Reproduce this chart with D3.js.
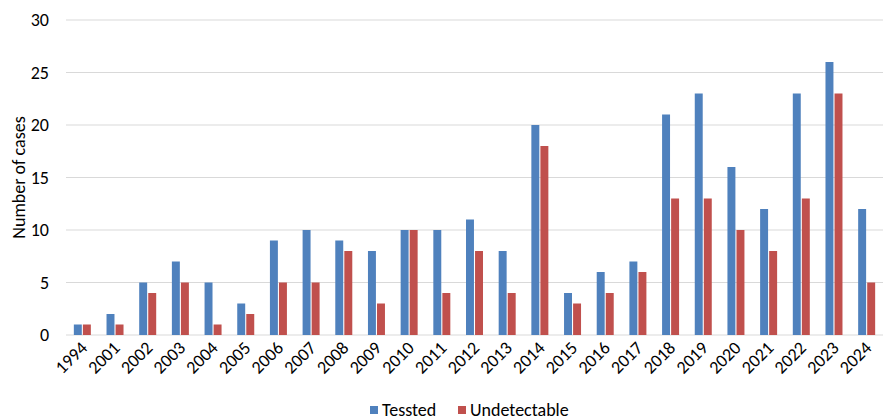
<!DOCTYPE html>
<html>
<head>
<meta charset="utf-8">
<script src="https://cdn.jsdelivr.net/npm/d3@7"></script>
<style>
  html, body { margin: 0; padding: 0; background: #fff; }
  svg text { font-family: Carlito, "Liberation Sans", "DejaVu Sans", sans-serif; fill: #000; }
</style>
</head>
<body>
<svg id="chart" width="883" height="420"></svg>
<script>
// Case counts per year
const years = ["1994","2001","2002","2003","2004","2005","2006","2007","2008","2009","2010","2011","2012",
  "2013","2014","2015","2016","2017","2018","2019","2020","2021","2022","2023","2024"];
const tested =       [1, 2, 5, 7, 5, 3, 9, 10, 9, 8, 10, 10, 11, 8, 20, 4, 6, 7, 21, 23, 16, 12, 23, 26, 12];
const undetectable = [1, 1, 4, 5, 1, 2, 5, 5, 8, 3, 10, 4, 8, 4, 18, 3, 4, 6, 13, 13, 10, 8, 13, 23, 5];
const seriesNames = ["Tessted", "Undetectable"];
const seriesColors = ["#4F81BD", "#C0504D"];
const yTicks = [0, 5, 10, 15, 20, 25, 30];

const svg = d3.select("#chart");
const margin = { left: 66, right: 0, top: 20, bottom: 85 };
const W = 883, H = 420;
const fs = 18;

const x = d3.scaleBand().domain(years).range([margin.left, W - margin.right]).paddingInner(0).paddingOuter(0);
const y = d3.scaleLinear().domain([0, 30]).range([H - margin.bottom, margin.top]);

// horizontal gridlines
svg.append("g").selectAll("line").data(yTicks).join("line")
  .attr("x1", margin.left).attr("x2", W - margin.right)
  .attr("y1", d => y(d)).attr("y2", d => y(d))
  .attr("stroke", "#d9d9d9").attr("stroke-width", 1.2);

// y tick labels
svg.append("g").selectAll("text").data(yTicks).join("text")
  .attr("x", 49).attr("y", d => y(d)).attr("dy", "0.35em")
  .attr("text-anchor", "end").attr("font-size", fs).text(d => d);

// y axis title
svg.append("text")
  .attr("transform", `translate(25,${(y(0) + y(30)) / 2}) rotate(-90)`)
  .attr("text-anchor", "middle").attr("font-size", fs).text("Number of cases");

// bars
const rows = years.map((yr, i) => ({ yr, vals: [tested[i], undetectable[i]] }));
const inner = d3.scaleBand().domain([0, 1]).range([0, 17]).paddingInner(0.12);
const bw = x.bandwidth();
const g = svg.append("g");
rows.forEach(r => {
  r.vals.forEach((v, k) => {
    g.append("rect")
      .attr("x", x(r.yr) + (bw - 17) / 2 + inner(k))
      .attr("y", y(v))
      .attr("width", inner.bandwidth())
      .attr("height", y(0) - y(v))
      .attr("fill", seriesColors[k]);
  });
});

// category labels, rotated
svg.append("g").selectAll("text").data(years).join("text")
  .attr("transform", d => `translate(${x(d) + bw / 2 + 6},${y(0) + 14}) rotate(-45)`)
  .attr("text-anchor", "end").attr("font-size", fs).text(d => d);

// legend
const legend = svg.append("g").attr("transform", "translate(0,410)");
const legendX = [370, 458];
seriesNames.forEach((name, k) => {
  legend.append("rect").attr("x", legendX[k]).attr("y", -4).attr("width", 8).attr("height", 8).attr("fill", seriesColors[k]);
  legend.append("text").attr("x", legendX[k] + 12).attr("y", 0).attr("dy", "0.35em")
    .attr("font-size", fs).text(name);
});
</script>
</body>
</html>
